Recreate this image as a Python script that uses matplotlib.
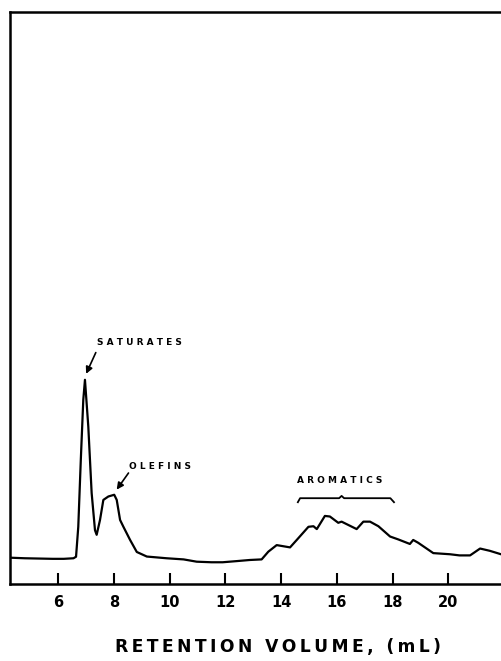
import matplotlib
matplotlib.use("Agg")
import matplotlib.pyplot as plt

# Retention volume (mL) and detector response (arbitrary units)
retention_ml = [4.27, 4.8, 5.3, 5.8, 6.2, 6.55, 6.64, 6.72, 6.81, 6.90, 6.96,
                7.08, 7.20, 7.32, 7.38, 7.50, 7.62, 7.80, 8.01, 8.10, 8.22,
                8.34, 8.58, 8.82, 9.18, 9.89, 10.5, 10.97, 11.5, 11.9, 12.4,
                12.88, 13.3, 13.54, 13.84, 14.08, 14.32, 14.56, 14.98, 15.16, 15.28,
                15.57, 15.75, 16.05, 16.17, 16.71, 16.95, 17.19, 17.49, 17.91, 18.2,
                18.62, 18.74, 18.92, 19.46, 20.06, 20.4, 20.78, 21.14, 21.49, 21.89]
response = [4.6, 4.5, 4.45, 4.4, 4.4, 4.5, 4.77, 10.0, 21.6, 32.2, 35.7,
            27.5, 15.9, 9.4, 8.6, 11.2, 14.7, 15.3, 15.6, 14.7, 11.2,
            10.0, 7.7, 5.6, 4.8, 4.5, 4.3, 3.9, 3.8, 3.8, 4.0,
            4.2, 4.3, 5.65, 6.8, 6.6, 6.4, 7.7, 10.0, 10.1, 9.6,
            11.9, 11.8, 10.7, 10.9, 9.6, 10.9, 10.9, 10.1, 8.3, 7.8,
            7.0, 7.7, 7.2, 5.4, 5.2, 5.0, 5.0, 6.2, 5.8, 5.2]

tick_values = [6, 8, 10, 12, 14, 16, 18, 20]
tick_labels = ["6", "8", "10", "12", "14", "16", "18", "20"]
x_label = "RETENTION VOLUME, (mL)"


def spaced(s, sep="\u2009"):
    return sep.join(s)


fig = plt.figure(figsize=(5.01, 6.61), dpi=100)
ax = fig.add_axes([10 / 501, 1 - 584 / 661, 1 - 10 / 501, (584 - 12) / 661])

ax.plot(retention_ml, response, color="black", lw=1.6, solid_joinstyle="round")

ax.set_xlim(4.27, 21.89)
ax.set_ylim(0, 100)
ax.set_yticks([])
ax.set_xticks(tick_values)
ax.set_xticklabels(tick_labels, fontsize=10.5, fontweight="semibold",
                   family="DejaVu Sans")
ax.tick_params(axis="x", direction="in", length=8, width=1.5, pad=8)

for s in ["left", "top", "bottom"]:
    ax.spines[s].set_linewidth(1.8)
ax.spines["right"].set_visible(False)

ax.set_xlabel(spaced(x_label), fontsize=12.3, fontweight="semibold")
ax.xaxis.set_label_coords(0.545, -0.095)

txt_kw = dict(fontsize=6.5, fontweight="bold", ha="center", va="center")
ax.text(8.90, 42.3, "S A T U R A T E S", **txt_kw)
ax.annotate("", xy=(6.96, 36.3), xytext=(7.39, 40.9),
            arrowprops=dict(arrowstyle="-|>", color="black", lw=1.2,
                            mutation_scale=10))
ax.text(9.65, 20.5, "O L E F I N S", **txt_kw)
ax.annotate("", xy=(8.04, 16.1), xytext=(8.58, 19.8),
            arrowprops=dict(arrowstyle="-|>", color="black", lw=1.2,
                            mutation_scale=10))
ax.text(16.11, 18.1, "A R O M A T I C S", **txt_kw)

# bracket over aromatics
bx = [14.6, 14.68, 16.08, 16.17, 16.26, 17.92, 18.05]
by = [14.3, 15.0, 15.0, 15.4, 15.0, 15.0, 14.3]
ax.plot(bx, by, color="black", lw=1.3)

fig.savefig("out.png", dpi=100)
